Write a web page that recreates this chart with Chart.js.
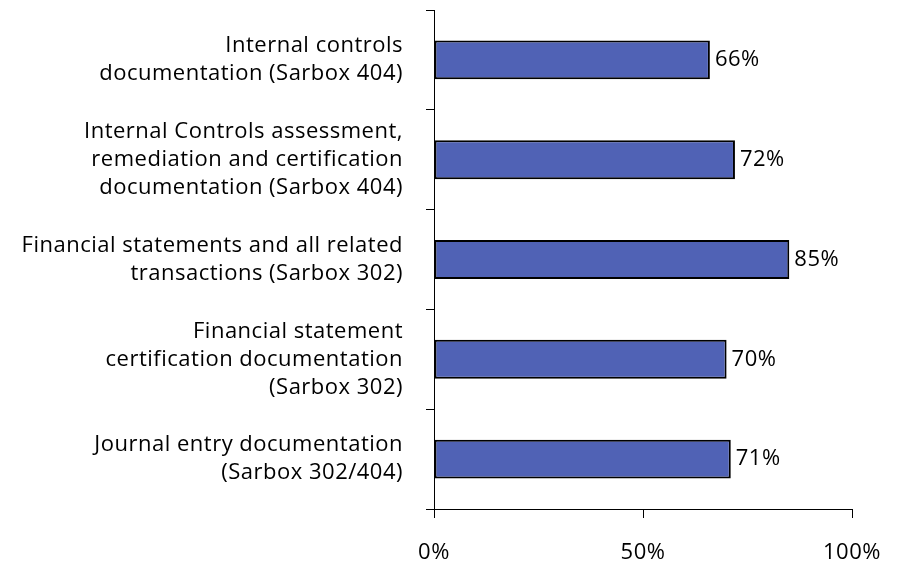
<!DOCTYPE html>
<html>
<head>
<meta charset="utf-8">
<script src="https://cdn.jsdelivr.net/npm/chart.js@4"></script>
<style>
  body { margin: 0; background: #fff; }
  canvas { display: block; }
</style>
</head>
<body>
<canvas id="sarboxChart" width="913" height="563"></canvas>
<script>
const categories = [
  ["Internal controls", "documentation (Sarbox 404)"],
  ["Internal Controls assessment,", "remediation and certification", "documentation (Sarbox 404)"],
  ["Financial statements and all related", "transactions (Sarbox 302)"],
  ["Financial statement", "certification documentation", "(Sarbox 302)"],
  ["Journal entry documentation", "(Sarbox 302/404)"]
];
const percentages = [66, 72, 85, 70, 71];
const xTicks = [0, 50, 100];

const fontFamily = "'Open Sans', 'Noto Sans', sans-serif";
const fontSize = 22;

// the original font is a bit wider, so open up the letters a little
const wideText = {
  id: 'wideText',
  beforeUpdate(chart) { chart.ctx.letterSpacing = '0.5px'; },
  beforeDraw(chart) { chart.ctx.letterSpacing = '0.5px'; }
};

// draws the "66%" style labels at the end of each bar
const barValueLabels = {
  id: 'barValueLabels',
  afterDatasetsDraw(chart) {
    const ctx = chart.ctx;
    const meta = chart.getDatasetMeta(0);
    ctx.save();
    ctx.font = fontSize + "px " + fontFamily;
    ctx.fillStyle = '#000';
    ctx.textAlign = 'left';
    ctx.textBaseline = 'middle';
    meta.data.forEach((bar, i) => {
      ctx.fillText(percentages[i] + '%', bar.x + 5, bar.y);
    });
    ctx.restore();
  }
};

const ctx = document.getElementById("sarboxChart");
new Chart(ctx, {
  type: 'bar',
  data: {
    labels: categories,
    datasets: [{
      data: percentages,
      backgroundColor: '#5062B5',
      borderColor: '#000',
      borderWidth: 2,
      borderSkipped: false,
      categoryPercentage: 1,
      barPercentage: 0.39
    }]
  },
  options: {
    indexAxis: 'y',
    responsive: false,
    animation: false,
    layout: { padding: { top: 10, right: 61, left: 0, bottom: 0 } },
    plugins: {
      legend: { display: false },
      tooltip: { enabled: false }
    },
    scales: {
      x: {
        min: 0,
        max: 100,
        afterBuildTicks: scale => { scale.ticks = xTicks.map(v => ({ value: v })); },
        afterFit: scale => { scale.height = 54; scale.paddingLeft = 0; scale.paddingRight = 0; },
        ticks: {
          callback: v => v + '%',
          color: '#000',
          font: { family: fontFamily, size: fontSize },
          padding: 22,
          maxRotation: 0
        },
        grid: { drawOnChartArea: false, drawTicks: true, tickLength: 9, color: '#000' },
        border: { color: '#000', width: 1 }
      },
      y: {
        afterFit: scale => { scale.width = 434; scale.paddingTop = 0; scale.paddingBottom = 0; },
        ticks: {
          color: '#000',
          font: { family: fontFamily, size: fontSize, lineHeight: 1.27 },
          padding: 23
        },
        grid: { offset: true, drawOnChartArea: false, drawTicks: true, tickLength: 8, color: '#000' },
        border: { color: '#000', width: 1 }
      }
    }
  },
  plugins: [wideText, barValueLabels]
});
</script>
</body>
</html>
